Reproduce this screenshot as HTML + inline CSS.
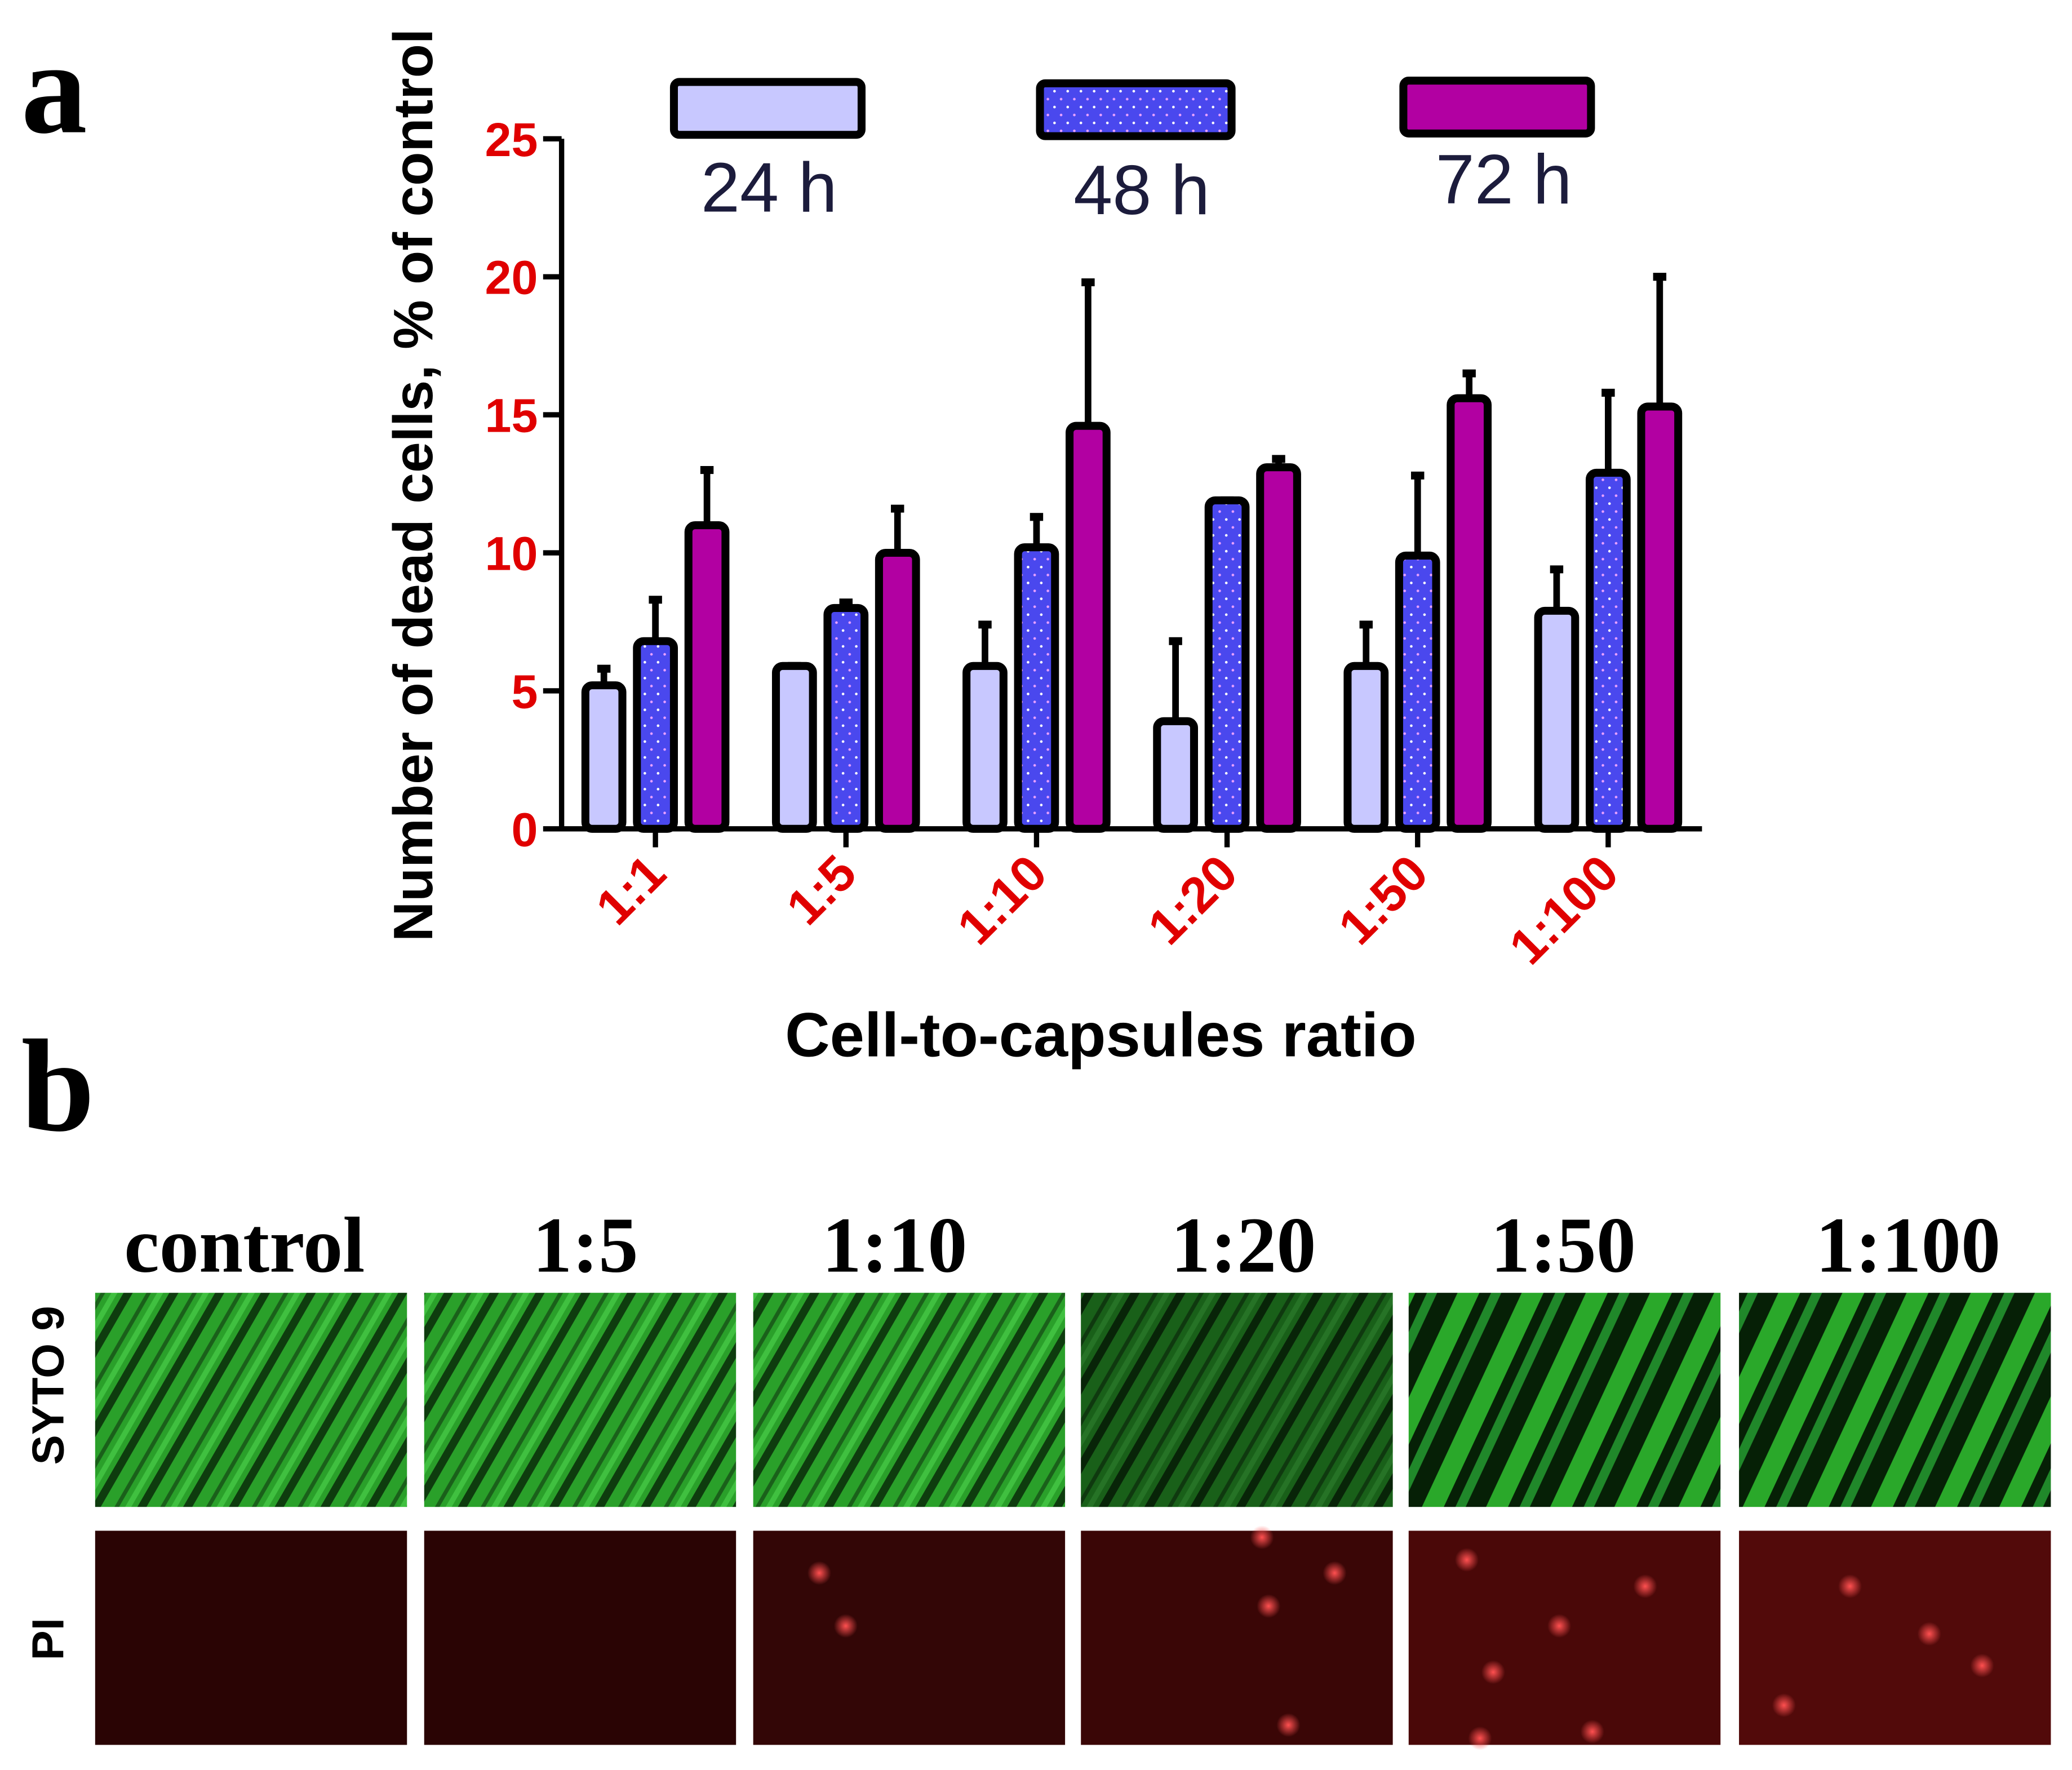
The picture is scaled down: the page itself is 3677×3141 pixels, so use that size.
<!DOCTYPE html>
<html><head><meta charset="utf-8"><style>
html,body{margin:0;padding:0;background:#fff}
svg{display:block}
</style></head><body>
<svg id="fig" width="3677" height="3141" viewBox="0 0 1568 1339" preserveAspectRatio="none" xmlns="http://www.w3.org/2000/svg">
<defs>
<pattern id="dots" width="10" height="12" patternUnits="userSpaceOnUse">
<rect width="10" height="12" fill="#4a48ee"/>
<circle cx="3" cy="3" r="1" fill="#e8a0ff"/>
<circle cx="8" cy="9" r="1" fill="#ffffff"/>
</pattern>
<pattern id="greenStreak" width="30" height="30" patternUnits="userSpaceOnUse" patternTransform="rotate(-60)">
<rect width="30" height="30" fill="#2aa02a"/>
<rect y="0" width="30" height="6" fill="#0e3c0e"/>
<rect y="15" width="30" height="3" fill="#1a601a"/>
<rect y="22" width="30" height="4" fill="#40c040"/>
</pattern>
<pattern id="greenSparse" width="44" height="44" patternUnits="userSpaceOnUse" patternTransform="rotate(-65)">
<rect width="44" height="44" fill="#062006"/>
<rect y="5" width="44" height="15" fill="#2aa82a"/>
<rect y="28" width="44" height="7" fill="#20882a"/>
</pattern>
<radialGradient id="redGlow"><stop offset="0" stop-color="#ff5050"/><stop offset="1" stop-color="#ff5050" stop-opacity="0"/></radialGradient>
</defs>

<text x="16" y="100" font-family="Liberation Serif, serif" font-weight="bold" font-size="100">a</text>
<text x="16" y="855" font-family="Liberation Serif, serif" font-weight="bold" font-size="100">b</text>

<g id="chart"></g>

<g>
<rect x="510" y="62" width="142" height="40" rx="4" fill="#c8c8ff" stroke="#000" stroke-width="6"/>
<rect x="787" y="63" width="145" height="40" rx="4" fill="url(#dots)" stroke="#000" stroke-width="6"/>
<rect x="1062" y="61" width="142" height="40" rx="4" fill="#b200a2" stroke="#000" stroke-width="6"/>
<text x="582" y="160" text-anchor="middle" font-family="Liberation Sans, sans-serif" font-size="53" fill="#1c1c3c">24 h</text>
<text x="864" y="162" text-anchor="middle" font-family="Liberation Sans, sans-serif" font-size="53" fill="#1c1c3c">48 h</text>
<text x="1138" y="154" text-anchor="middle" font-family="Liberation Sans, sans-serif" font-size="53" fill="#1c1c3c">72 h</text>
</g>

<text transform="translate(327,367) rotate(-90)" text-anchor="middle" font-family="Liberation Sans, sans-serif" font-weight="bold" font-size="42">Number of dead cells, % of control</text>
<text x="833" y="799" text-anchor="middle" font-family="Liberation Sans, sans-serif" font-weight="bold" font-size="47">Cell-to-capsules ratio</text>

<g id="micro"></g>
<text transform="translate(48,1048) rotate(-90)" text-anchor="middle" font-family="Liberation Sans, sans-serif" font-weight="bold" font-size="34">SYTO 9</text>
<text transform="translate(48,1240) rotate(-90)" text-anchor="middle" font-family="Liberation Sans, sans-serif" font-weight="bold" font-size="34">PI</text>
</svg>
<script>
const categories = ["1:1","1:5","1:10","1:20","1:50","1:100"];
const series24 = [5.2, 5.9, 5.9, 3.9, 5.9, 7.9];
const series48 = [6.8, 8.0, 10.2, 11.9, 9.9, 12.9];
const series72 = [11.0, 10.0, 14.6, 13.1, 15.6, 15.3];
const err24 = [0.6, 0.0, 1.5, 2.9, 1.5, 1.5];
const err48 = [1.5, 0.2, 1.1, 0.0, 2.9, 2.9];
const err72 = [2.0, 1.6, 5.2, 0.3, 0.9, 4.7];
const yTicks = [0, 5, 10, 15, 20, 25];
const panelLabels = ["control","1:5","1:10","1:20","1:50","1:100"];

const NS = "http://www.w3.org/2000/svg";
const chart = document.getElementById("chart");
function mk(tag, attrs, parent){const e=document.createElementNS(NS,tag);for(const k in attrs)e.setAttribute(k,attrs[k]);(parent||chart).appendChild(e);return e;}
const x0=425, x1=1288, y0=627, yTop=105, yMax=25;
const yScale = v => y0 - (v/yMax)*(y0-yTop);
const groupW = 144.2, firstC = 496;
const xScale = i => firstC + i*groupW;

let ax = mk("line",{x1:x0,y1:y0+2,x2:x0,y2:yTop,stroke:"#000","stroke-width":4});


yTicks.forEach(t=>{
  const y=yScale(t);
  let l=mk("line",{x1:x0-14,y1:y,x2:x0,y2:y,stroke:"#000","stroke-width":4});
  
  
  let tx=mk("text",{x:x0-18,y:y+13,"text-anchor":"end","font-family":"Liberation Sans, sans-serif","font-weight":"bold","font-size":36,fill:"#e00000"});
  tx.textContent=t;
  
  
});

const series=[{v:series24,e:err24,fill:"#c8c8ff",off:-39,n:"24h"},{v:series48,e:err48,fill:"url(#dots)",off:0,n:"48h"},{v:series72,e:err72,fill:"#b200a2",off:39,n:"72h"}];
const bw=28;
categories.forEach((c,i)=>{
  const cx=xScale(i);
  series.forEach(s=>{
    const bx=cx+s.off, top=yScale(s.v[i]), et=yScale(s.v[i]+s.e[i]);
    let el=mk("line",{x1:bx,y1:top,x2:bx,y2:et,stroke:"#000","stroke-width":5});
    
    
    let cap=mk("line",{x1:bx-5,y1:et,x2:bx+5,y2:et,stroke:"#000","stroke-width":6});
    
    
    let r=mk("rect",{x:bx-bw/2,y:top,width:bw,height:y0-top,rx:5,fill:s.fill,stroke:"#000","stroke-width":6});
    
    
  });
  let tk=mk("line",{x1:cx,y1:y0,x2:cx,y2:y0+14,stroke:"#000","stroke-width":4});
  
  
  let lb=mk("text",{transform:`translate(${cx+10},${y0+36}) rotate(-45)`,"text-anchor":"end","font-family":"Liberation Sans, sans-serif","font-weight":"bold","font-size":38,fill:"#e00000"});
  lb.textContent=c;
  
  
});
let xa=mk("line",{x1:x0-2,y1:y0,x2:x1,y2:y0,stroke:"#000","stroke-width":4});



const micro=document.getElementById("micro");
const colX=[72,321,570,818,1066,1316], colW=236;
const heads=[185,443,677,941,1183,1444];
const redSpots=[[],[],[[620,1190],[640,1230]],[[955,1163],[1010,1190],[960,1215],[975,1305]],[[1110,1180],[1130,1265],[1205,1310],[1120,1315],[1245,1200],[1180,1230]],[[1460,1236],[1400,1200],[1500,1260],[1350,1290]]];
const redBase=["#2a0404","#2a0404","#330606","#3a0606","#4a0808","#520a0a"];
panelLabels.forEach((p,i)=>{
  let t=mk("text",{x:heads[i],y:962,"text-anchor":"middle","font-family":"Liberation Serif, serif","font-weight":"bold","font-size":60},micro);
  t.textContent=p;
  
  
  let g=mk("rect",{x:colX[i],y:978,width:colW,height:162,fill:(i==4||i==5)?"url(#greenSparse)":"url(#greenStreak)"},micro);
  
  
  if(i==3){let bg=mk("rect",{x:colX[i],y:978,width:colW,height:162,fill:"#000",opacity:0.4},micro);}
  let r=mk("rect",{x:colX[i],y:1158,width:colW,height:162,fill:redBase[i]},micro);
  
  
  redSpots[i].forEach(s=>{
    let c=mk("circle",{cx:s[0],cy:s[1],r:9,fill:"url(#redGlow)"},micro);
    
    
  });
});
</script>
</body></html>
